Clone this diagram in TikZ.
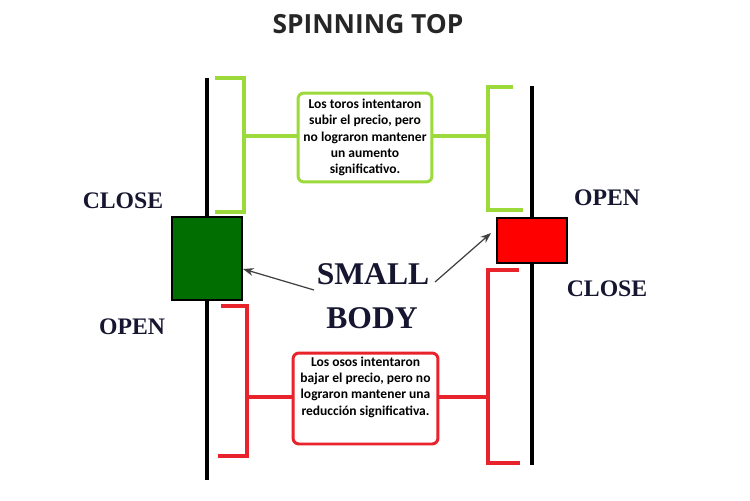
\documentclass[tikz,border=0pt]{standalone}
\usepackage{fontspec}
\setmainfont{Liberation Serif}
\newfontfamily\boxfont{Carlito}
\newfontfamily\titlefont{Open Sans}
\usetikzlibrary{arrows.meta}
\definecolor{lime}{HTML}{9CD93A}
\definecolor{redb}{HTML}{E8232B}
\definecolor{navy}{HTML}{161630}
\definecolor{dkgreen}{HTML}{006E00}
\begin{document}
\begin{tikzpicture}[x=0.02cm,y=-0.02cm,
  wick/.style={line width=2.4pt,black},
  bodybox/.style={draw=black,line width=1.2pt,inner sep=0pt},
  bracket/.style={line width=1.8pt},
  note/.style={draw,line width=1.7pt,rounded corners=0.12cm,fill=white,inner sep=0pt,
     align=center,font=\boxfont\bfseries\fontsize{7.7}{9.2}\selectfont},
  lbl/.style={font=\bfseries\fontsize{13.5}{14}\selectfont,text=navy},
  big/.style={font=\bfseries\fontsize{18}{18}\selectfont,text=navy},
  pointer/.style={draw=black!75,line width=0.7pt,-{Stealth[length=6pt,width=4.5pt]}}]
\useasboundingbox (0,0) rectangle (750,500);
% title
\node[font=\titlefont\bfseries\fontsize{15}{15}\selectfont,text=black!85] (title) at (368,24) {SPINNING TOP};
% wicks
\coordinate (lwt) at (207,78); \coordinate (lwb) at (207,480);
\coordinate (rwt) at (532,86); \coordinate (rwb) at (532,465);
\draw[wick] (lwt) -- (lwb);
\draw[wick] (rwt) -- (rwb);
% bodies
\node[bodybox,fill=dkgreen,minimum width=1.40cm,minimum height=1.66cm] (gbody) at (207,258.5) {};
\node[bodybox,fill=red,minimum width=1.40cm,minimum height=0.90cm] (rbody) at (532,240.5) {};
% notes
\node[note,draw=lime,minimum width=2.68cm,minimum height=1.78cm] (gnote) at (365,137.5)
  {Los toros intentaron\\subir el precio, pero\\no lograron mantener\\un aumento\\significativo.};
\node[note,draw=redb,minimum width=2.90cm,minimum height=1.82cm] (rnote) at (365.5,398.5)
  {Los osos intentaron\\bajar el precio, pero no\\lograron mantener una\\reducción significativa.\\[5pt]};
% green brackets
\coordinate (gl1) at (215,78); \coordinate (gl2) at (244,78); \coordinate (gl3) at (244,212); \coordinate (gl4) at (215,212);
\coordinate (glm) at (244,136);
\draw[bracket,lime] (gl1) -- (gl2) -- (gl3) -- (gl4);
\draw[bracket,lime] (glm) -- (gnote.west |- glm);
\coordinate (gr1) at (513,87); \coordinate (gr2) at (488,87); \coordinate (gr3) at (488,210); \coordinate (gr4) at (523,210);
\coordinate (grm) at (488,136);
\draw[bracket,lime] (gr1) -- (gr2) -- (gr3) -- (gr4);
\draw[bracket,lime] (grm) -- (gnote.east |- grm);
% red brackets
\coordinate (rl1) at (221,306); \coordinate (rl2) at (247,306); \coordinate (rl3) at (247,456); \coordinate (rl4) at (218,456);
\coordinate (rlm) at (247,397);
\draw[bracket,redb] (rl1) -- (rl2) -- (rl3) -- (rl4);
\draw[bracket,redb] (rlm) -- (rnote.west |- rlm);
\coordinate (rr1) at (519,270); \coordinate (rr2) at (488,270); \coordinate (rr3) at (488,463); \coordinate (rr4) at (520,463);
\coordinate (rrm) at (488,397);
\draw[bracket,redb] (rr1) -- (rr2) -- (rr3) -- (rr4);
\draw[bracket,redb] (rrm) -- (rnote.east |- rrm);
% labels
\node[lbl] (lclose) at (123,201) {CLOSE};
\node[lbl] (lopen) at (132,327) {OPEN};
\node[lbl] (ropen) at (607,198) {OPEN};
\node[lbl] (rclose) at (607,289) {CLOSE};
\node[big] (small) at (373,274) {SMALL};
\node[big] (bodyt) at (372,318) {BODY};
% pointers
\coordinate (lt) at (314,290);
\coordinate (rt) at (435,282);
\draw[pointer] (lt) -- (gbody.east |- 0,269);
\draw[pointer] (rt) -- (491,233);
\end{tikzpicture}
\end{document}
